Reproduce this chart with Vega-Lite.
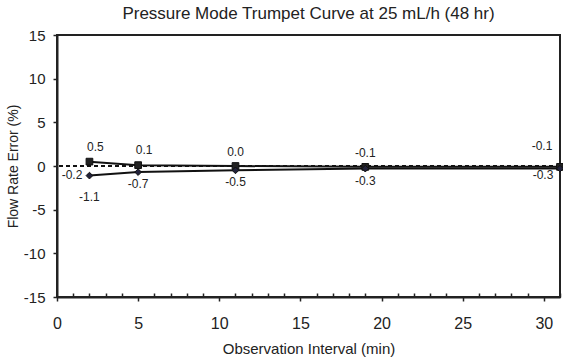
{
  "$schema": "https://vega.github.io/schema/vega-lite/v6.json",
  "width": 503,
  "height": 262,
  "autosize": {"type": "none"},
  "padding": {"left": 57, "top": 35, "right": 3, "bottom": 67},
  "title": {"text": "Pressure Mode Trumpet Curve at 25 mL/h (48 hr)", "font": "Liberation Sans", "fontSize": 17, "fontWeight": "normal", "color": "#222", "offset": 5},
  "config": {
    "font": "Liberation Sans",
    "view": {"stroke": "#222", "strokeWidth": 2},
    "axis": {"grid": false, "domainColor": "#222", "domainWidth": 2, "tickColor": "#222", "tickWidth": 1.5, "labelFont": "Liberation Sans", "titleFont": "Liberation Sans", "labelColor": "#222", "titleColor": "#222", "titleFontWeight": "normal"}
  },
  "datasets": {
    "curve": [
      {"interval": 2, "series": "max", "error": 0.5},
      {"interval": 5, "series": "max", "error": 0.1},
      {"interval": 11, "series": "max", "error": 0.0},
      {"interval": 19, "series": "max", "error": -0.1},
      {"interval": 31, "series": "max", "error": -0.1},
      {"interval": 2, "series": "min", "error": -1.1},
      {"interval": 5, "series": "min", "error": -0.7},
      {"interval": 11, "series": "min", "error": -0.5},
      {"interval": 19, "series": "min", "error": -0.3},
      {"interval": 31, "series": "min", "error": -0.3}
    ],
    "overall": [{"interval": 0, "error": -0.2, "zero": 0}]
  },
  "layer": [
    {
      "data": {"name": "curve"},
      "mark": {"type": "line", "color": "#111", "strokeWidth": 2},
      "encoding": {
        "x": {"field": "interval", "type": "quantitative", "scale": {"domain": [0, 31], "nice": false},
          "axis": {"values": [0,1,2,3,4,5,6,7,8,9,10,11,12,13,14,15,16,17,18,19,20,21,22,23,24,25,26,27,28,29,30,31], "tickCount": 40,
            "labelExpr": "datum.value % 5 === 0 ? datum.label : ''", "labelOverlap": false, "labelFlush": false,
            "title": "Observation Interval (min)", "titleFontSize": 15, "titlePadding": 10, "labelFontSize": 16, "labelPadding": 14,
            "tickSize": {"condition": {"test": "datum.value % 5 === 0", "value": 4}, "value": -4}}},
        "y": {"field": "error", "type": "quantitative", "scale": {"domain": [-15, 15], "nice": false},
          "axis": {"values": [-15, -10, -5, 0, 5, 10, 15], "labelExpr": "replace(datum.label, '\u2212', '-')", "labelOverlap": false, "title": "Flow Rate Error (%)", "titleFontSize": 14, "titlePadding": 3, "labelFontSize": 15, "tickSize": 4, "labelPadding": 8}},
        "detail": {"field": "series"}
      }
    },
    {
      "data": {"name": "overall"},
      "mark": {"type": "rule", "color": "#111", "strokeWidth": 2, "strokeDash": [4, 3]},
      "encoding": {
        "y": {"field": "zero", "type": "quantitative"}
      }
    },
    {
      "data": {"name": "curve"},
      "mark": {"type": "point", "filled": true, "size": 45, "opacity": 1, "stroke": "#111", "strokeWidth": 1},
      "encoding": {
        "x": {"field": "interval", "type": "quantitative"},
        "y": {"field": "error", "type": "quantitative"},
        "shape": {"field": "series", "type": "nominal", "scale": {"domain": ["max", "min"], "range": ["square", "diamond"]}, "legend": null},
        "color": {"field": "series", "type": "nominal", "scale": {"domain": ["max", "min"], "range": ["#222", "#22223a"]}, "legend": null}
      }
    },
    {
      "data": {"name": "overall"},
      "transform": [{"calculate": "replace(format(datum.error, '.1f'), '\u2212', '-')", "as": "label"}],
      "mark": {"type": "text", "fontSize": 12, "color": "#222", "dx": 15, "dy": 7, "align": "center"},
      "encoding": {
        "x": {"field": "interval", "type": "quantitative"},
        "y": {"field": "error", "type": "quantitative"},
        "text": {"field": "label"}
      }
    },
    {
      "data": {"name": "curve"},
      "transform": [{"filter": "datum.series === 'max' && datum.interval < 11"}, {"calculate": "replace(format(datum.error, '.1f'), '\u2212', '-')", "as": "label"}],
      "mark": {"type": "text", "fontSize": 12, "color": "#222", "dy": -15, "dx": 6},
      "encoding": {
        "x": {"field": "interval", "type": "quantitative"},
        "y": {"field": "error", "type": "quantitative"},
        "text": {"field": "label"}
      }
    },
    {
      "data": {"name": "curve"},
      "transform": [{"filter": "datum.series === 'max' && datum.interval >= 11 && datum.interval < 31"}, {"calculate": "replace(format(datum.error, '.1f'), '\u2212', '-')", "as": "label"}],
      "mark": {"type": "text", "fontSize": 12, "color": "#222", "dy": -14},
      "encoding": {
        "x": {"field": "interval", "type": "quantitative"},
        "y": {"field": "error", "type": "quantitative"},
        "text": {"field": "label"}
      }
    },
    {
      "data": {"name": "curve"},
      "transform": [{"filter": "datum.series === 'min' && datum.interval === 2"}, {"calculate": "replace(format(datum.error, '.1f'), '\u2212', '-')", "as": "label"}],
      "mark": {"type": "text", "fontSize": 12, "color": "#222", "dy": 21},
      "encoding": {
        "x": {"field": "interval", "type": "quantitative"},
        "y": {"field": "error", "type": "quantitative"},
        "text": {"field": "label"}
      }
    },
    {
      "data": {"name": "curve"},
      "transform": [{"filter": "datum.series === 'min' && datum.interval > 2 && datum.interval < 31"}, {"calculate": "replace(format(datum.error, '.1f'), '\u2212', '-')", "as": "label"}],
      "mark": {"type": "text", "fontSize": 12, "color": "#222", "dy": 12},
      "encoding": {
        "x": {"field": "interval", "type": "quantitative"},
        "y": {"field": "error", "type": "quantitative"},
        "text": {"field": "label"}
      }
    },
    {
      "data": {"name": "curve"},
      "transform": [{"filter": "datum.series === 'max' && datum.interval === 31"}, {"calculate": "replace(format(datum.error, '.1f'), '\u2212', '-')", "as": "label"}],
      "mark": {"type": "text", "fontSize": 12, "color": "#222", "dx": -18, "dy": -21},
      "encoding": {
        "x": {"field": "interval", "type": "quantitative"},
        "y": {"field": "error", "type": "quantitative"},
        "text": {"field": "label"}
      }
    },
    {
      "data": {"name": "curve"},
      "transform": [{"filter": "datum.series === 'min' && datum.interval === 31"}, {"calculate": "replace(format(datum.error, '.1f'), '\u2212', '-')", "as": "label"}],
      "mark": {"type": "text", "fontSize": 12, "color": "#222", "dx": -17, "dy": 6},
      "encoding": {
        "x": {"field": "interval", "type": "quantitative"},
        "y": {"field": "error", "type": "quantitative"},
        "text": {"field": "label"}
      }
    }
  ]
}
